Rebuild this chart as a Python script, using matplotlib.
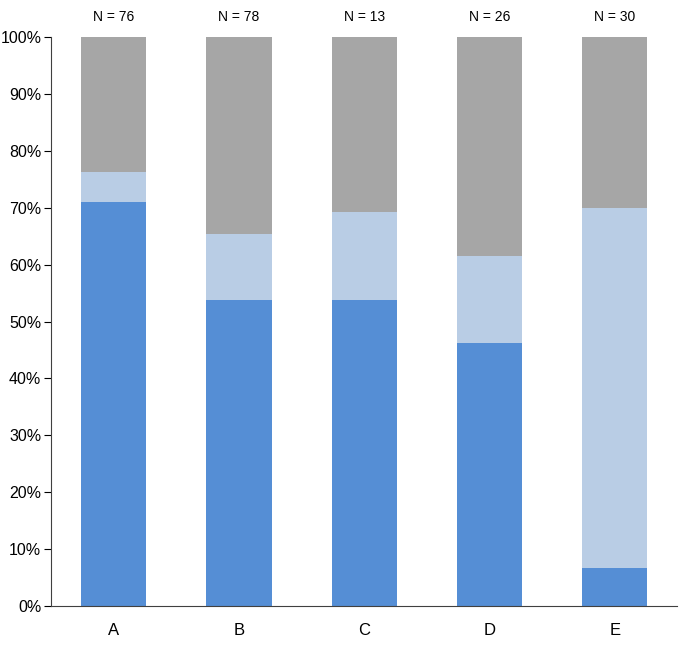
import numpy as np
import matplotlib
matplotlib.use('Agg')
from matplotlib import pyplot as plt
from matplotlib.ticker import PercentFormatter

categories = ['A', 'B', 'C', 'D', 'E']
n_totals = [76, 78, 13, 26, 30]
blue_counts = [54, 42, 7, 12, 2]
light_counts = [4, 9, 2, 4, 19]

plt.rcParams['font.family'] = ['Liberation Sans Narrow', 'Liberation Sans', 'DejaVu Sans']

n = np.array(n_totals, dtype=float)
blue = np.array(blue_counts) / n * 100
light = np.array(light_counts) / n * 100
gray = 100 - blue - light

fig = plt.figure(figsize=(6.82, 6.56), dpi=100)
ax = fig.add_axes([0.0748, 0.0762, 0.9186, 0.8674])

x = np.arange(len(categories))
w = 0.52
ax.bar(x, blue, w, color='#558ED5')
ax.bar(x, light, w, bottom=blue, color='#B9CDE5')
ax.bar(x, gray, w, bottom=blue + light, color='#A6A6A6')

for xi, nt in zip(x, n_totals):
    ax.text(xi, 103.5, 'N = %d' % nt, ha='center', va='center', fontsize=10)

ax.set_xlim(-0.5, 4.5)
ax.set_ylim(0, 100)
ax.set_yticks(np.arange(0, 101, 10))
ax.yaxis.set_major_formatter(PercentFormatter(decimals=0))
ax.set_xticks(x)
ax.set_xticklabels(categories)
ax.tick_params(axis='y', length=5, labelsize=11.5, pad=2)
ax.tick_params(axis='x', length=0, labelsize=12, pad=12)
for s in ['top', 'right']:
    ax.spines[s].set_visible(False)
ax.spines['left'].set_color('#404040')
ax.spines['bottom'].set_color('#404040')

fig.savefig('out.png', dpi=100)
